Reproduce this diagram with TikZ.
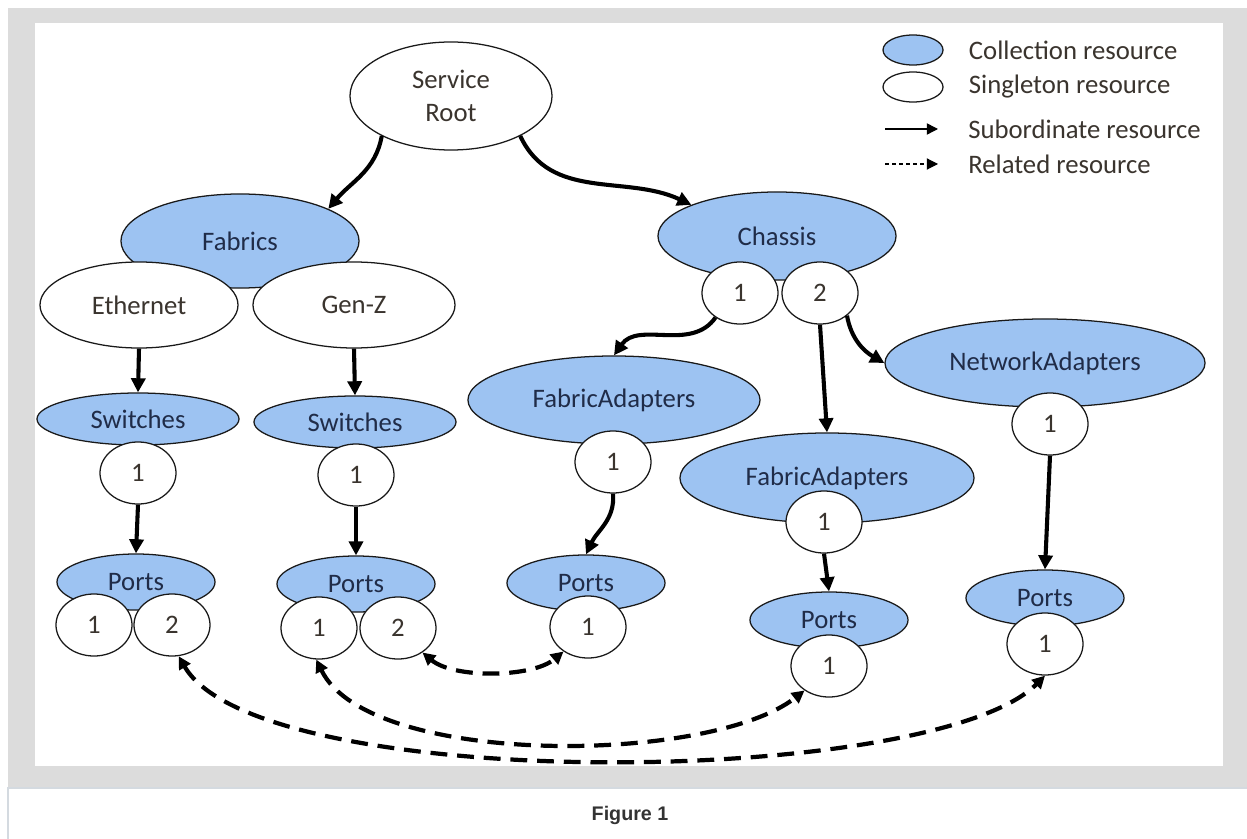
\documentclass[tikz,border=0pt]{standalone}
\usepackage{fontspec}
\setmainfont{Carlito}
\newfontfamily\figlabelfont{Liberation Sans}
\usepackage{tikz}
\usetikzlibrary{positioning, shapes.geometric, arrows.meta}
\definecolor{CollColor}{RGB}{157,195,242}
\definecolor{FrameGray}{RGB}{220,220,220}
\definecolor{RuleColor}{RGB}{212,218,224}
\definecolor{NodeInk}{RGB}{32,44,72}
\definecolor{PlainInk}{RGB}{58,52,46}
\definecolor{EdgeInk}{RGB}{25,25,25}
\tikzset{
    res/.style={
        ellipse,
        inner sep=0pt,
        draw=EdgeInk,
        line width=0.9pt,
        align=center,
        font=\fontsize{19}{23}\selectfont
    },
    coll/.style={res, fill=CollColor, text=NodeInk},
    single/.style={res, fill=white, text=PlainInk},
    member/.style={single, minimum width=1.9cm, minimum height=1.55cm},
    switches/.style={coll, minimum width=5.05cm, minimum height=1.3cm},
    ports/.style={coll, minimum width=3.95cm, minimum height=1.4cm},
    adapters/.style={coll, minimum width=7.3cm, minimum height=2.2cm},
    legtext/.style={inner sep=0pt, text=PlainInk, font=\fontsize{19}{23}\selectfont},
    sub/.style={-{Triangle[length=10pt, width=10pt]}, line width=2.9pt, draw=black},
    rel/.style={{Triangle[length=9pt, width=9pt]}-{Triangle[length=9pt, width=9pt]}, line width=3pt, dash pattern=on 12pt off 7pt, draw=black},
    legsub/.style={-{Triangle[length=8pt, width=8pt]}, line width=1pt, draw=black},
    legrel/.style={-{Triangle[length=8pt, width=8pt]}, line width=0.8pt, dash pattern=on 3pt off 2pt, draw=black}
}

\begin{document}
\begin{tikzpicture}[x=0.025cm, y=-0.025cm]

% Frame
\useasboundingbox (0,0) rectangle (1247,839);
\fill[FrameGray] (8,8) rectangle (1247,788);
\fill[white] (35,23) rectangle (1223,766);
\draw[RuleColor, line width=0.8pt] (8,839) -- (8,788) -- (1247,788);

% Legend
\node[coll, minimum width=1.5cm, minimum height=0.75cm] (l_coll) at (913,50) {};
\node[legtext, right=0.625cm of l_coll] (l_coll_txt) {Collection resource};

\node[single, minimum width=1.5cm, minimum height=0.75cm] (l_single) at (913,87) {};
\node[legtext, right=0.625cm of l_single] (l_single_txt) {Singleton resource};

\coordinate (l_sub) at (885,129);
\coordinate (l_sub_end) at (938,129);
\draw[legsub] (l_sub) -- (l_sub_end);
\node[legtext, right=0.75cm of l_sub_end] (l_sub_txt) {Subordinate resource};

\coordinate (l_rel) at (885,164);
\coordinate (l_rel_end) at (938,164);
\draw[legrel] (l_rel) -- (l_rel_end);
\node[legtext, right=0.75cm of l_rel_end] (l_rel_txt) {Related resource};

% Top level
\node[single, minimum width=5.05cm, minimum height=2.7cm] (n_root) at (451,96) {Service\\Root};
\node[coll, minimum width=5.95cm, minimum height=2.35cm] (n_fabrics) at (240,241) {Fabrics};
\node[coll, minimum width=5.95cm, minimum height=2.2cm] (n_chassis) at (777,236) {Chassis};
\node[member] (n_ch1) at (740,293) {1};
\node[member] (n_ch2) at (820,293) {2};

% Fabrics branch
\node[single, minimum width=4.95cm, minimum height=2.15cm] (n_eth) at (139,305) {Ethernet};
\node[single, minimum width=5.05cm, minimum height=2.15cm] (n_genz) at (354,305) {Gen-Z};

\node[switches] (n_swA) at (138,419) {Switches};
\node[member] (n_swA1) at (138,473) {1};
\node[ports] (n_portsA) at (136,582) {Ports};
\node[member] (n_portsA1) at (94,625) {1};
\node[member] (n_portsA2) at (172,625) {2};

\node[switches] (n_swB) at (355,422) {Switches};
\node[member] (n_swB1) at (356,475) {1};
\node[ports] (n_portsB) at (356,584) {Ports};
\node[member] (n_portsB1) at (319,628) {1};
\node[member] (n_portsB2) at (398,628) {2};

% Chassis branch
\node[adapters] (n_faA) at (614,400) {FabricAdapters};
\node[member] (n_faA1) at (613,462) {1};
\node[ports] (n_portsC) at (586,583) {Ports};
\node[member] (n_portsC1) at (588,627) {1};

\node[adapters, minimum width=7.35cm, minimum height=2.25cm] (n_faB) at (827,478) {FabricAdapters};
\node[member] (n_faB1) at (824,522) {1};
\node[ports] (n_portsD) at (829,620) {Ports};
\node[member] (n_portsD1) at (829,666) {1};

\node[adapters, minimum width=8cm] (n_na) at (1045,363) {NetworkAdapters};
\node[member] (n_na1) at (1050,424) {1};
\node[ports] (n_portsE) at (1045,598) {Ports};
\node[member] (n_portsE1) at (1045,644) {1};

% Subordinate links
\draw[sub] (n_root.210) to[out=-100, in=50] (n_fabrics.20);
\draw[sub] (n_root.-30) to[out=-65, in=155] (n_chassis.160);
\draw[sub] (n_eth.south) -- (n_swA.north);
\draw[sub] (n_genz.south) -- (n_swB.north);
\draw[sub] (n_swA1.south) -- (n_portsA.north);
\draw[sub] (n_swB1.south) -- (n_portsB.north);
\draw[sub] (n_ch1.225) to[out=-125, in=55] (n_faA.north);
\draw[sub] (n_ch2.south) -- (n_faB.north);
\draw[sub] (n_ch2.-40) to[out=-80, in=150] (n_na.west);
\draw[sub] (n_faA1.south) to[out=-85, in=65] (n_portsC.north);
\draw[sub] (n_faB1.south) -- (n_portsD.north);
\draw[sub] (n_na1.south) -- (n_portsE.north);

% Related links
\draw[rel] (n_portsB2.-45) to[out=-40, in=-140, looseness=0.74] (n_portsC1.225);
\draw[rel] (n_portsB1.-95) to[out=-64, in=-142, looseness=0.63] (n_portsD1.225);
\draw[rel] (n_portsA2.-78) to[out=-60, in=-135, looseness=0.47] (n_portsE1.south);

% Caption
\node[font={\figlabelfont\bfseries\fontsize{14}{16}\selectfont}, text=black!80] (n_caption) at (630,815) {Figure 1};

\end{tikzpicture}
\end{document}
